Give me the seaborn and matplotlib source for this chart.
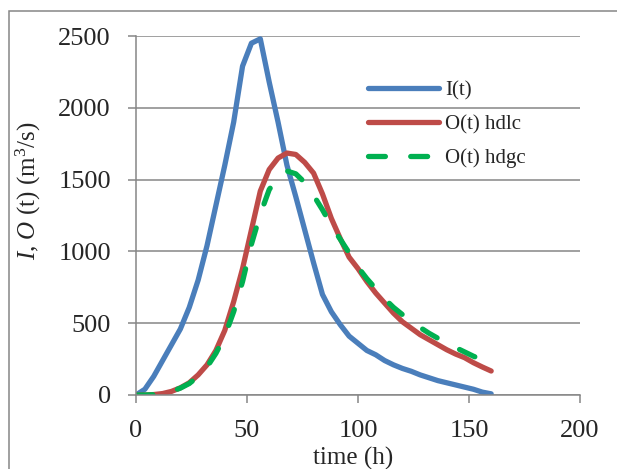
import pandas as pd
import seaborn as sns
import matplotlib.pyplot as plt
from matplotlib.patches import Rectangle

# hydrograph values (time step 4 h)
time_h = list(range(0, 161, 4))
inflow = [0, 40, 130, 240, 350, 460, 610, 800, 1040, 1320, 1600, 1900, 2290, 2450, 2480,
          2180, 1900, 1600, 1380, 1150, 920, 700, 580, 490, 410, 360, 310, 280, 240, 210,
          185, 165, 140, 120, 100, 85, 70, 55, 40, 20, 8]
outflow_hdlc = [0, 0, 3, 10, 25, 50, 85, 140, 210, 310, 450, 650, 880, 1150, 1420, 1570,
                1650, 1685, 1675, 1620, 1545, 1400, 1230, 1090, 960, 880, 790, 710, 640, 570,
                510, 465, 420, 385, 350, 315, 285, 260, 225, 195, 167]
outflow_hdgc = [0, 0, 2, 10, 25, 48, 80, 130, 195, 290, 410, 580, 790, 1050, 1260, 1430,
                1520, 1560, 1540, 1480, 1390, 1290, 1180, 1085, 990, 890, 810, 740, 670, 610,
                560, 510, 470, 430, 395, 360, 330, 300, 270, 245, 220]

series_names = ['I(t)', 'O(t) hdlc', 'O(t) hdgc']
series_colors = ['#4A7EBB', '#BE4B48', '#00B050']

df = pd.DataFrame({'time': time_h, series_names[0]: inflow,
                   series_names[1]: outflow_hdlc, series_names[2]: outflow_hdgc})
df_long = df.melt(id_vars='time', var_name='series', value_name='Q')

sns.set_theme(style='white')
plt.rcParams['font.family'] = ['Liberation Serif', 'DejaVu Serif']
plt.rcParams['mathtext.fontset'] = 'custom'
plt.rcParams['mathtext.rm'] = 'Liberation Serif'
plt.rcParams['mathtext.it'] = 'Liberation Serif:italic'

grey = '#868686'
fig = plt.figure(figsize=(6.17, 4.69), dpi=100)
ax = fig.add_axes([0.2204, 0.1578, 0.7196, 0.7654])

sns.lineplot(data=df_long, x='time', y='Q', hue='series', style='series',
             hue_order=series_names, style_order=series_names,
             palette=dict(zip(series_names, series_colors)),
             dashes={'I(t)': '', 'O(t) hdlc': '', 'O(t) hdgc': (3.2, 4.8)},
             linewidth=3.8, legend=False, ax=ax)
for line in ax.lines:
    line.set_dash_capstyle('round')
    line.set_solid_capstyle('round')
    line.set_solid_joinstyle('round')

ax.set_xlim(0, 200)
ax.set_ylim(0, 2500)
ax.set_xticks([0, 50, 100, 150, 200])
ax.set_yticks([0, 500, 1000, 1500, 2000, 2500])
ax.yaxis.grid(True, color=grey, linewidth=1.1)
ax.set_axisbelow(True)
for side in ['top', 'right']:
    ax.spines[side].set_visible(False)
for side in ['left', 'bottom']:
    ax.spines[side].set_color(grey)
    ax.spines[side].set_linewidth(1.1)
ax.tick_params(direction='out', length=6, width=1.1, color=grey,
               labelsize=19, pad=12, left=True, bottom=True)

ax.set_xlabel('time (h)', fontsize=18)
ax.xaxis.set_label_coords(0.49, -0.145)
ax.set_ylabel(r'$\mathit{I}$, $\mathit{O}$ (t) (m$^3$/s)', fontsize=18)
ax.yaxis.set_label_coords(-0.21, 0.57)

ax.legend(handles=ax.lines[:3], labels=series_names, loc='upper left',
          bbox_to_anchor=(0.5225, 0.875), frameon=False, fontsize=15,
          handlelength=3.4, handletextpad=0.3, labelspacing=0.68,
          borderpad=0, borderaxespad=0)

# outer chart-area border (cut by the image edge at right and bottom)
fig.patches.append(Rectangle((9 / 617, -0.05), 1.2, 1 - 11 / 469 + 0.05,
                             transform=fig.transFigure, fill=False,
                             edgecolor=grey, linewidth=1.1))

fig.savefig('out.png', dpi=100)
